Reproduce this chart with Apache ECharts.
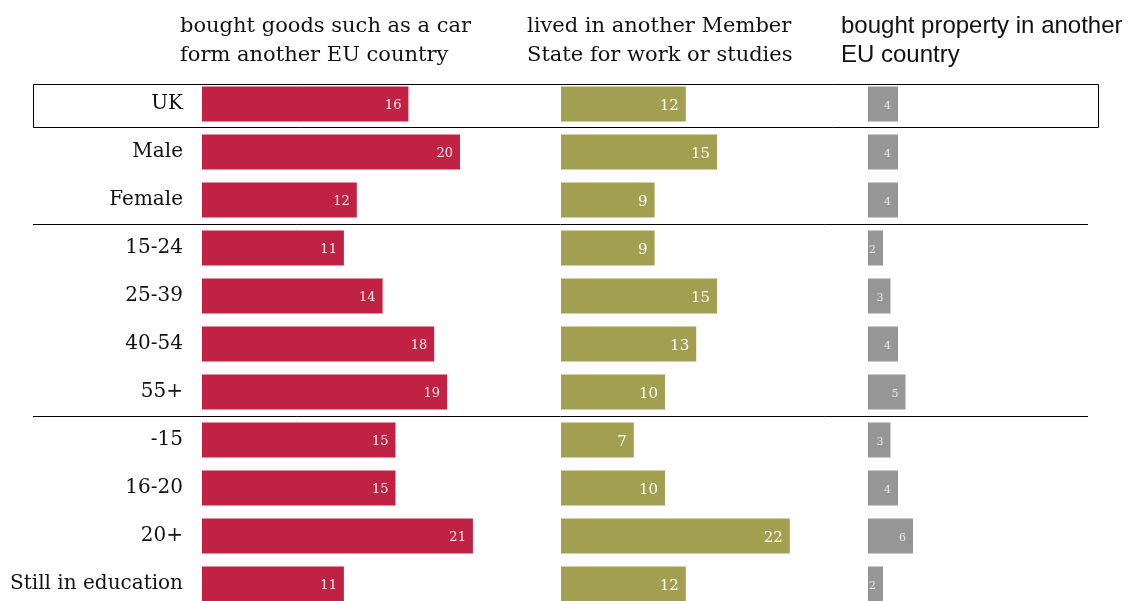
<!DOCTYPE html>
<html>
<head>
<meta charset="utf-8">
<script src="https://cdn.jsdelivr.net/npm/echarts@6/dist/echarts.min.js"></script>
<style>
  html, body { margin: 0; padding: 0; background: #fff; }
  #chart { width: 1134px; height: 601px; }
</style>
</head>
<body>
<div id="chart"></div>
<script>
const categories = ['UK', 'Male', 'Female', '15-24', '25-39', '40-54', '55+', '-15', '16-20', '20+', 'Still in education'];
const boughtGoods = [16, 20, 12, 11, 14, 18, 19, 15, 15, 21, 11];
const livedAbroad = [12, 15, 9, 9, 15, 13, 10, 7, 10, 22, 12];
const boughtProperty = [4, 4, 4, 2, 3, 4, 5, 3, 4, 6, 2];
const headers = [
  'bought goods such as a car\nform another EU country',
  'lived in another Member\nState for work or studies',
  'bought property in another\nEU country',
];

const SERIF = '"DejaVu Serif", "Liberation Serif", serif';
const SANS = '"Liberation Sans", Arial, sans-serif';

// row layout
const gridTop = 80;
const band = 48;
const gridHeight = band * categories.length;

// one panel per series, each with its own scale
const panels = [
  { left: 202, max: 26, pxPerUnit: 12.9, color: '#C12243', data: boughtGoods, labelColor: '#f6e9ec', labelSize: 13 },
  { left: 561, max: 28, pxPerUnit: 10.4, color: '#A29F50', data: livedAbroad, labelColor: '#ffffff', labelSize: 15 },
  { left: 868, max: 30, pxPerUnit: 7.5, color: '#969696', data: boughtProperty, labelColor: '#e6e6e6', labelSize: 11 },
];

const option = {
  backgroundColor: '#fff',
  animation: false,
  title: [
    { text: headers[0], left: 175, top: 7, textStyle: { fontFamily: SERIF, fontSize: 21, fontWeight: 'normal', color: '#111', lineHeight: 29 } },
    { text: headers[1], left: 522, top: 7, textStyle: { fontFamily: SERIF, fontSize: 21, fontWeight: 'normal', color: '#111', lineHeight: 29 } },
    { text: headers[2], left: 836, top: 7, textStyle: { fontFamily: SANS, fontSize: 24, fontWeight: 'normal', color: '#111', lineHeight: 29 } },
  ],
  grid: panels.map(p => ({
    left: p.left,
    top: gridTop,
    width: p.max * p.pxPerUnit,
    height: gridHeight,
    containLabel: false,
    outerBoundsMode: 'none',
  })),
  xAxis: panels.map((p, i) => ({
    type: 'value',
    gridIndex: i,
    min: 0,
    max: p.max,
    show: false,
  })),
  yAxis: panels.map((p, i) => ({
    type: 'category',
    gridIndex: i,
    inverse: true,
    data: categories,
    axisLine: { show: false },
    axisTick: { show: false },
    axisLabel: {
      show: i === 0,
      margin: 19,
      color: '#111',
      fontFamily: SERIF,
      fontSize: 20,
    },
  })),
  series: panels.map((p, i) => ({
    type: 'bar',
    xAxisIndex: i,
    yAxisIndex: i,
    data: p.data,
    barWidth: 35,
    itemStyle: { color: p.color },
    label: {
      show: true,
      position: 'insideRight',
      distance: 7,
      offset: [0, 2],
      color: p.labelColor,
      fontFamily: SERIF,
      fontSize: p.labelSize,
    },
  })),
  graphic: [
    {
      type: 'rect',
      shape: { x: 33.5, y: gridTop + 4.5, width: 1065, height: band - 5 },
      style: { fill: 'none', stroke: '#000', lineWidth: 1 },
    },
    {
      type: 'line',
      shape: { x1: 33, y1: gridTop + 3 * band + 0.5, x2: 1088, y2: gridTop + 3 * band + 0.5 },
      style: { stroke: '#000', lineWidth: 1 },
    },
    {
      type: 'line',
      shape: { x1: 33, y1: gridTop + 7 * band + 0.5, x2: 1088, y2: gridTop + 7 * band + 0.5 },
      style: { stroke: '#000', lineWidth: 1 },
    },
  ],
};

const myChart = echarts.init(document.getElementById('chart'));
myChart.setOption(option);
window.addEventListener('resize', () => {
  myChart.resize();
});
</script>
</body>
</html>
